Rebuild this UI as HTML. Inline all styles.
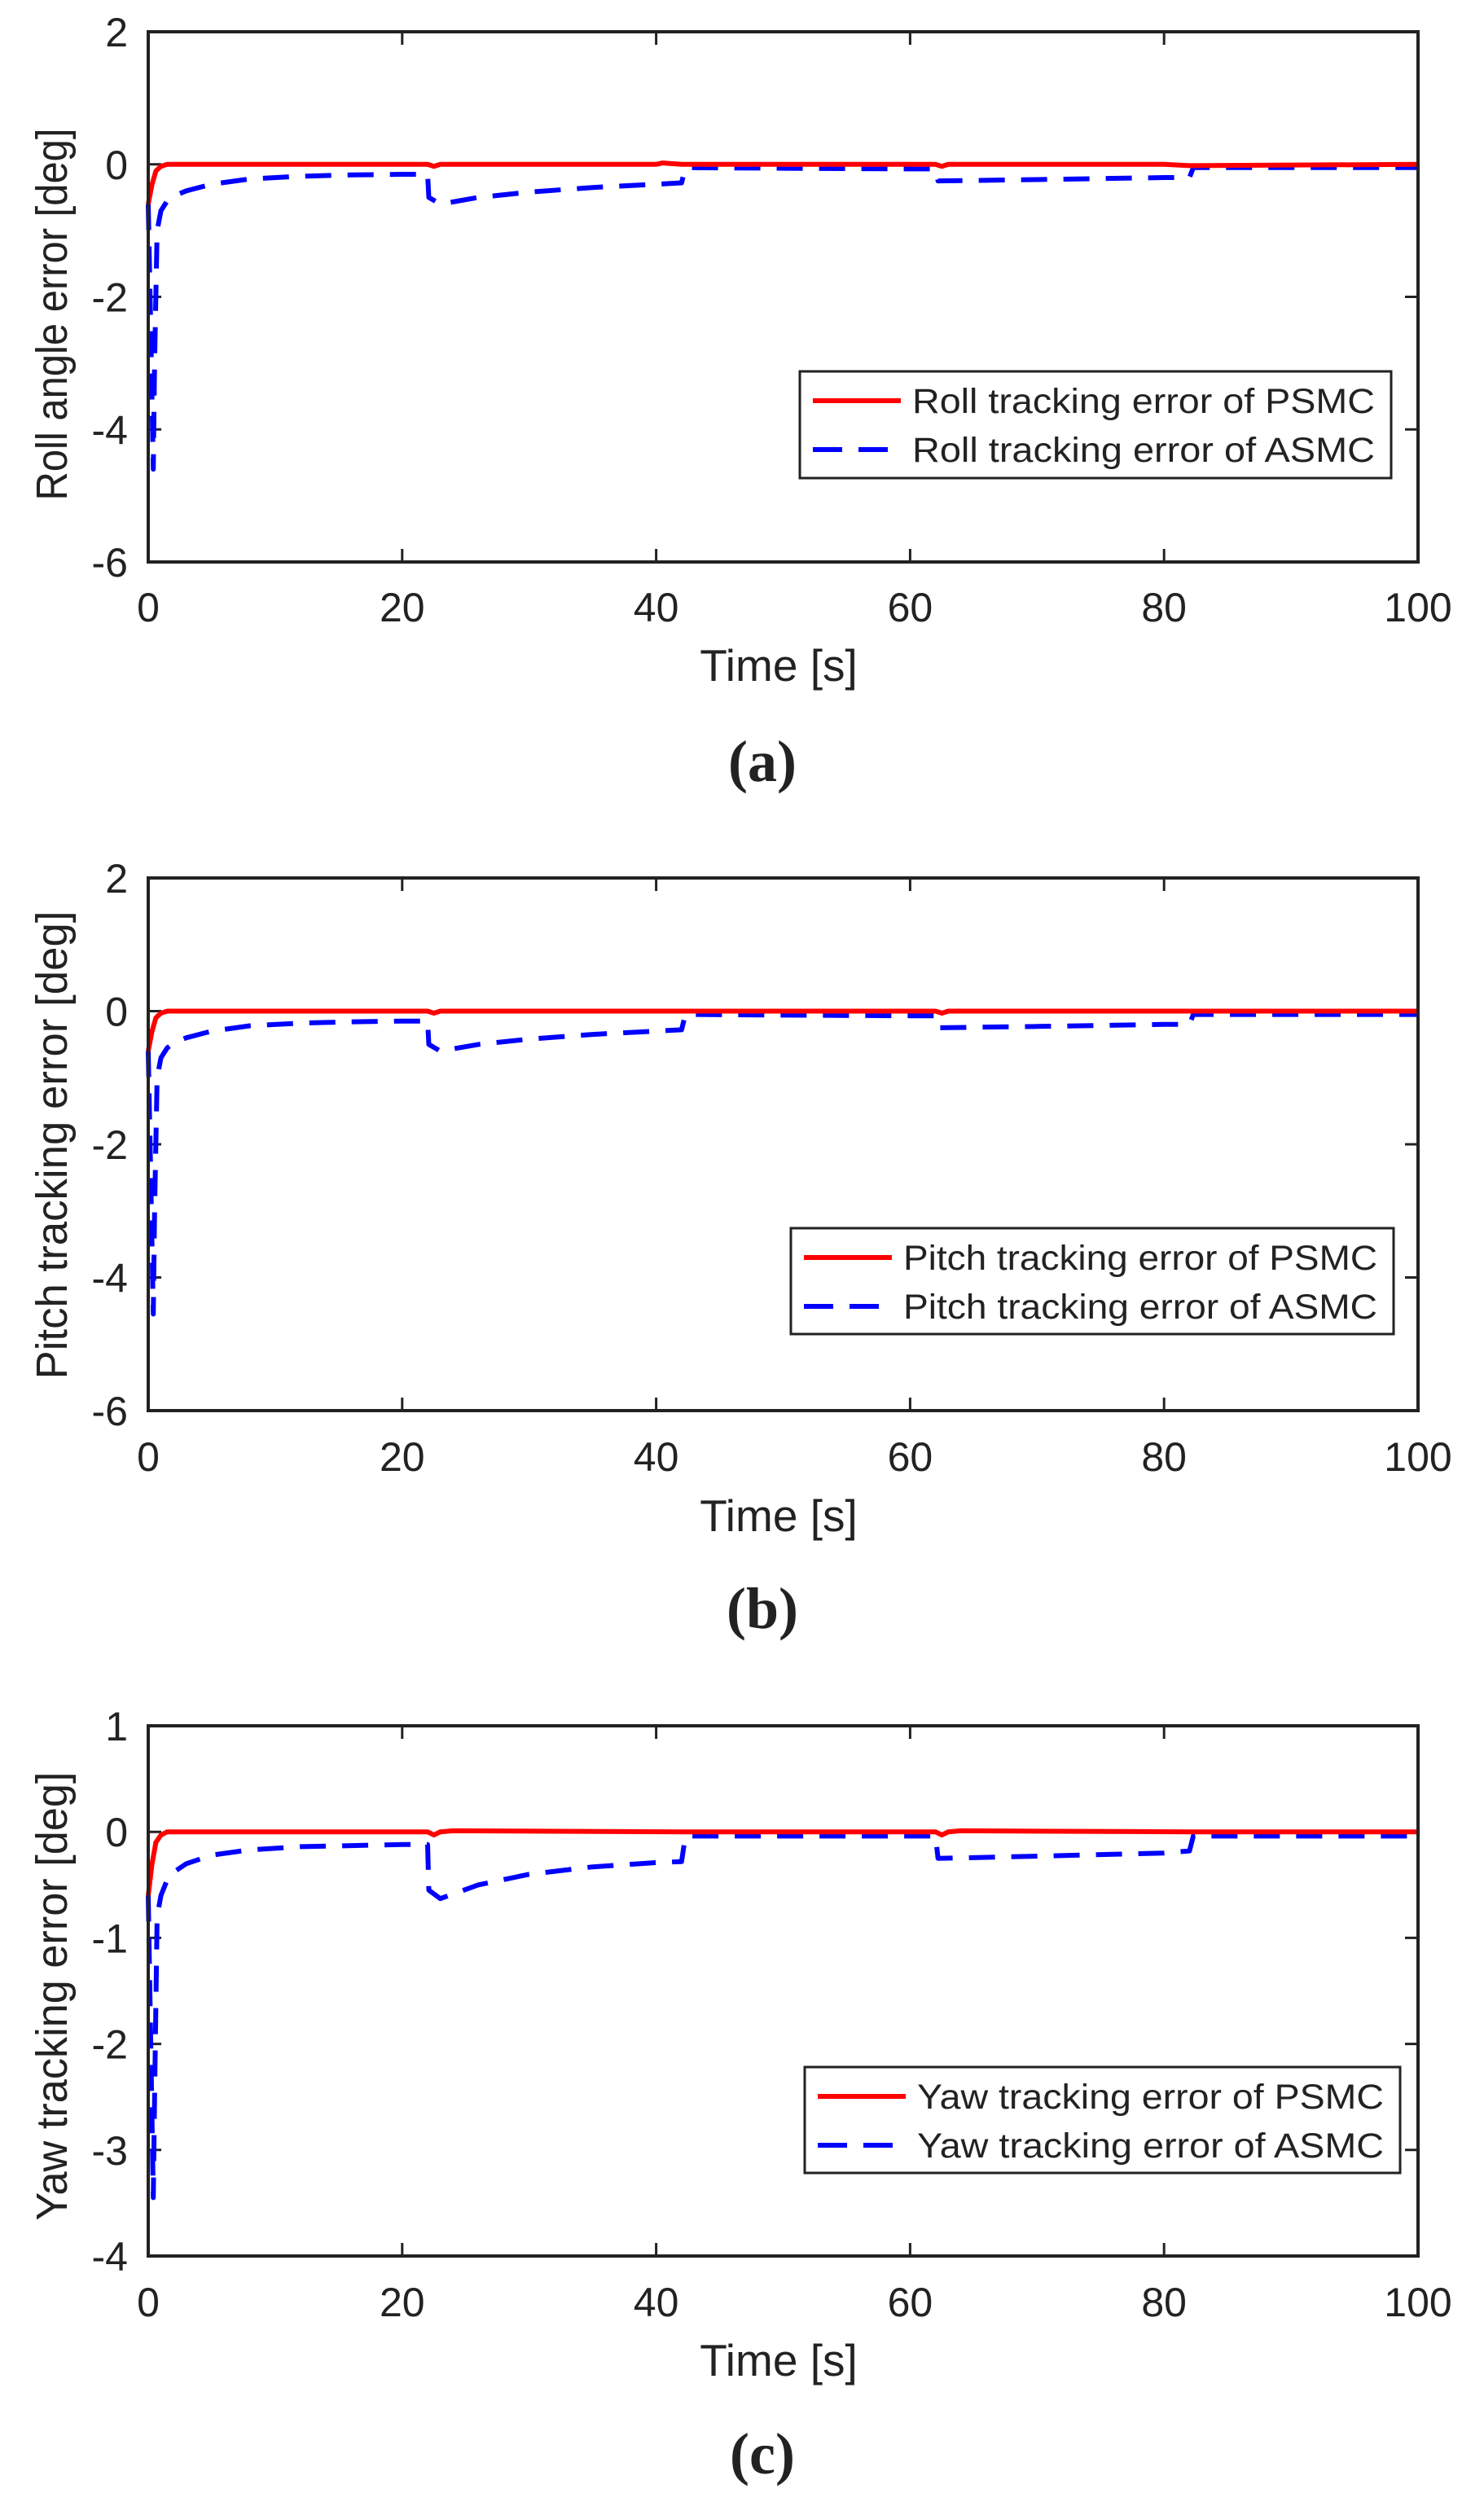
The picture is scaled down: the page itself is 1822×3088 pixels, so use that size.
<!DOCTYPE html>
<html><head><meta charset="utf-8"><style>
html,body{margin:0;padding:0;background:#fff;}
svg{display:block;}
text{font-family:"Liberation Sans",sans-serif;fill:#222;}
</style></head><body>
<svg id="fig" width="1822" height="3088" viewBox="0 0 1822 3088" xmlns="http://www.w3.org/2000/svg"></svg>
<script>
// ---- data ----
const rollAsmcT=[0,0.2,0.4,0.5,0.7,1,1.5,2,3,5,8,12,16,20,22,22.1,23,26,30,35,40,42,42.3,50,60,62,62.2,70,80,82,82.3,90,100];
const rollAsmcV=[-0.6,-2.5,-4.6,-3,-1,-0.7,-0.55,-0.48,-0.4,-0.3,-0.22,-0.18,-0.16,-0.15,-0.15,-0.5,-0.6,-0.5,-0.42,-0.35,-0.3,-0.28,-0.05,-0.06,-0.07,-0.07,-0.25,-0.23,-0.2,-0.2,-0.05,-0.05,-0.05];
const rollPsmcT=[0,0.3,0.6,1,1.5,2,22,22.5,23,40,40.5,42,62,62.5,63,80,82,100];
const rollPsmcV=[-0.6,-0.3,-0.1,-0.03,0,0,0,-0.03,0,0,0.02,0,0,-0.03,0,0,-0.02,0];
const pitchAsmcT=[0,0.2,0.4,0.5,0.7,1,1.5,2,3,5,8,12,16,20,22,22.1,23,26,30,35,40,42,42.3,50,60,62,62.2,70,80,82,82.3,90,100];
const pitchAsmcV=[-0.6,-2.5,-4.55,-3,-1,-0.7,-0.55,-0.48,-0.4,-0.3,-0.22,-0.18,-0.16,-0.15,-0.15,-0.5,-0.6,-0.5,-0.42,-0.35,-0.3,-0.28,-0.05,-0.06,-0.07,-0.07,-0.25,-0.23,-0.2,-0.2,-0.05,-0.05,-0.05];
const pitchPsmcT=[0,0.3,0.6,1,1.5,2,22,22.5,23,42,62,62.5,63,82,100];
const pitchPsmcV=[-0.6,-0.3,-0.1,-0.03,0,0,0,-0.03,0,0,0,-0.03,0,0,0];
const yawAsmcT=[0,0.2,0.4,0.5,0.7,1,1.5,2,3,5,8,12,16,20,22,22.1,23,26,30,35,40,42,42.3,50,60,62,62.2,70,80,82,82.3,90,100];
const yawAsmcV=[-0.6,-2,-3.45,-2.5,-0.8,-0.6,-0.45,-0.38,-0.3,-0.22,-0.17,-0.14,-0.13,-0.12,-0.12,-0.55,-0.63,-0.5,-0.4,-0.33,-0.29,-0.28,-0.04,-0.04,-0.04,-0.04,-0.25,-0.23,-0.2,-0.18,-0.04,-0.04,-0.04];
const yawPsmcT=[0,0.3,0.6,1,1.5,2,22,22.5,23,24,42,62,62.5,63,64,82,100];
const yawPsmcV=[-0.6,-0.3,-0.1,-0.03,0,0,0,-0.03,0,0.01,0,0,-0.03,0,0.01,0,0];
const xTicks=[0,20,40,60,80,100];
const yTicksAB=[2,0,-2,-4,-6];
const yTicksC=[1,0,-1,-2,-3,-4];

const panels=[
 {id:'roll',T:39,B:690,ymax:2,ymin:-6,yt:yTicksAB,ylab:'Roll angle error [deg]',ylc:386,yll:457,
  aT:rollAsmcT,aV:rollAsmcV,pT:rollPsmcT,pV:rollPsmcV,leg:[982,456,1708,587],
  l1:'Roll tracking error of PSMC',l2:'Roll tracking error of ASMC',xl:745,tl:817,cap:'(a)',cy:935},
 {id:'pitch',T:1078,B:1732,ymax:2,ymin:-6,yt:yTicksAB,ylab:'Pitch tracking error [deg]',ylc:1406,yll:575,
  aT:pitchAsmcT,aV:pitchAsmcV,pT:pitchPsmcT,pV:pitchPsmcV,leg:[971,1508,1711,1638],
  l1:'Pitch tracking error of PSMC',l2:'Pitch tracking error of ASMC',xl:1788,tl:1861,cap:'(b)',cy:1975},
 {id:'yaw',T:2119,B:2770,ymax:1,ymin:-4,yt:yTicksC,ylab:'Yaw tracking error [deg]',ylc:2451,yll:551,
  aT:yawAsmcT,aV:yawAsmcV,pT:yawPsmcT,pV:yawPsmcV,leg:[988,2538,1719,2668],
  l1:'Yaw tracking error of PSMC',l2:'Yaw tracking error of ASMC',xl:2826,tl:2898,cap:'(c)',cy:3013}
];
const L=182,R=1741;
const svg=document.getElementById('fig');
const NS='http://www.w3.org/2000/svg';
function mk(tag,attrs,parent,txt){const e=document.createElementNS(NS,tag);for(const k in attrs)e.setAttribute(k,attrs[k]);if(txt!==undefined)e.textContent=txt;parent.appendChild(e);return e;}

panels.forEach(p=>{
  const g=mk('g',{},svg);
  
  
  const xs=t=>L+(t-0)/(100-0)*(R-L);
  const ys=v=>p.T+(p.ymax-v)/(p.ymax-p.ymin)*(p.B-p.T);
  xTicks.forEach(t=>{
    const x=xs(t);
    const tk=mk('path',{d:`M${x},${p.B}v-16M${x},${p.T}v16`,stroke:'#222','stroke-width':3},g);
    
    
    const lb=mk('text',{x:x,y:p.xl+18,'font-size':50,'text-anchor':'middle'},g,String(t));
    
    
  });
  p.yt.forEach(v=>{
    const y=ys(v);
    const tk=mk('path',{d:`M${L},${y}h16M${R},${y}h-16`,stroke:'#222','stroke-width':3},g);
    
    
    const lb=mk('text',{x:157,y:y+18,'font-size':50,'text-anchor':'end'},g,String(v));
    
    
  });
  const ptsA=p.aT.map((t,i)=>xs(t).toFixed(1)+','+ys(p.aV[i]).toFixed(1)).join(' ');
  const sa=mk('polyline',{points:ptsA,fill:'none',stroke:'#0000ff','stroke-width':6,'stroke-dasharray':'32 20','stroke-linejoin':'round'},g);
  
  
  const ptsP=p.pT.map((t,i)=>xs(t).toFixed(1)+','+ys(p.pV[i]).toFixed(1)).join(' ');
  const sp=mk('polyline',{points:ptsP,fill:'none',stroke:'#ff0000','stroke-width':6,'stroke-linejoin':'round'},g);
  
  
  const fr=mk('rect',{x:L,y:p.T,width:R-L,height:p.B-p.T,fill:'none',stroke:'#222','stroke-width':4},g);
  
  
  const [lx1,ly1,lx2,ly2]=p.leg;
  const lg=mk('g',{},g);
  
  
  mk('rect',{x:lx1,y:ly1,width:lx2-lx1,height:ly2-ly1,fill:'#fff',stroke:'#222','stroke-width':3},lg);
  const r1=ly1+36,r2=ly1+96;
  mk('line',{x1:lx1+16,y1:r1,x2:lx1+124,y2:r1,stroke:'#ff0000','stroke-width':6},lg);
  mk('line',{x1:lx1+16,y1:r2,x2:lx1+124,y2:r2,stroke:'#0000ff','stroke-width':6,'stroke-dasharray':'36 20'},lg);
  const t1=mk('text',{x:lx1+138,y:r1+15,'font-size':43,textLength:lx2-lx1-158,lengthAdjust:'spacingAndGlyphs'},lg,p.l1);
  
  
  const t2=mk('text',{x:lx1+138,y:r2+15,'font-size':43,textLength:lx2-lx1-158,lengthAdjust:'spacingAndGlyphs'},lg,p.l2);
  
  
  const yl=mk('text',{x:0,y:0,'font-size':54,'text-anchor':'middle',transform:`translate(82,${p.ylc}) rotate(-90)`,textLength:p.yll,lengthAdjust:'spacingAndGlyphs'},g,p.ylab);
  
  
  const xl=mk('text',{x:956,y:p.tl+19,'font-size':55,'text-anchor':'middle'},g,'Time [s]');
  
  
  const cp=mk('text',{x:936,y:p.cy+24,'font-size':72,'font-weight':'bold','text-anchor':'middle',style:'font-family:"Liberation Serif",serif'},g,p.cap);
  
  
});
</script>
</body></html>
